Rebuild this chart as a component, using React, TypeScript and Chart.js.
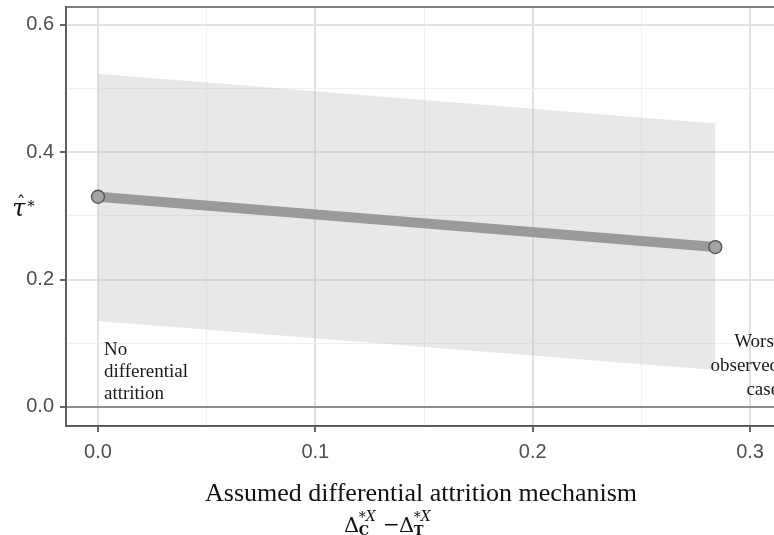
import React, { useEffect, useRef } from "react";
import { Chart, registerables } from "chart.js";

Chart.register(...registerables);

const xValues = [0, 0.284];
const estimate = [0.33, 0.251];
const lowerBound = [0.135, 0.058];
const upperBound = [0.523, 0.445];
const xMajorTicks = [0, 0.1, 0.2, 0.3];
const xMinorTicks = [0.05, 0.15, 0.25];
const yMajorTicks = [0, 0.2, 0.4, 0.6];
const yMinorTicks = [0.1, 0.3, 0.5];
const leftNote = ["No", "differential", "attrition"];
const rightNote = ["Worst", "observed", "case"];
const xTitle = "Assumed differential attrition mechanism";

const isMajor = (v: number, majors: number[]) => majors.some((m) => Math.abs(m - v) < 1e-9);

export default function App() {
  const ref = useRef<HTMLCanvasElement>(null);
  useEffect(() => {
    document.body.style.margin = "0";
    const canvas = ref.current!;
    const toPts = (ys: number[]) => xValues.map((x, i) => ({ x, y: ys[i] }));

    const annotate = {
      id: "annotate",
      afterDatasetsDraw(chart: any) {
        const { ctx, scales } = chart;
        const xs = scales.x;
        ctx.save();
        ctx.fillStyle = "#1a1a1a";
        ctx.font = '19px "Liberation Serif", serif';
        ctx.textBaseline = "middle";
        ctx.textAlign = "left";
        const lx = xs.getPixelForValue(xValues[0]) + 6;
        leftNote.forEach((t, i) => ctx.fillText(t, lx, 350 + i * 22));
        ctx.textAlign = "right";
        const rx = xs.getPixelForValue(0.3) + 29;
        rightNote.forEach((t, i) => ctx.fillText(t, rx, 342 + i * 24));
        ctx.restore();
      },
      afterDraw(chart: any) {
        const { ctx, chartArea } = chart;
        ctx.save();
        // panel border
        ctx.strokeStyle = "#555555";
        ctx.lineWidth = 1.5;
        ctx.strokeRect(chartArea.left, chartArea.top, chartArea.right - chartArea.left + 10, chartArea.bottom - chartArea.top);
        // x title
        ctx.fillStyle = "#111111";
        ctx.textAlign = "center";
        ctx.textBaseline = "alphabetic";
        ctx.font = '26px "Liberation Serif", serif';
        ctx.fillText(xTitle, 421, 501);
        // math line: Δ*X_C − Δ*X_T
        const base = 532;
        const drawDelta = (x: number, sub: string) => {
          ctx.textAlign = "left";
          ctx.font = '21px "DejaVu Serif", serif';
          ctx.fillText("Δ", x, base);
          const w = ctx.measureText("Δ").width - 1;
          ctx.font = '14px "DejaVu Serif", serif';
          ctx.fillText("*", x + w + 0.5, base - 10);
          const sw = ctx.measureText("*").width;
          ctx.font = 'italic 14px "DejaVu Serif", serif';
          ctx.fillText("X", x + w + sw + 0.5, base - 11);
          ctx.font = 'bold 13px "DejaVu Serif", serif';
          ctx.fillText(sub, x + w + 0.5, base + 3);
          return x + w;
        };
        drawDelta(344, "C");
        ctx.font = '20px "DejaVu Serif", serif';
        ctx.textAlign = "left";
        ctx.fillText("−", 383, base - 1);
        drawDelta(399, "T");
        // y title τ̂*
        ctx.textAlign = "center";
        ctx.font = 'italic 24px "DejaVu Serif", serif';
        ctx.fillText("τ", 19, 216);
        ctx.font = '18px "DejaVu Serif", serif';
        ctx.fillText("ˆ", 21, 210);
        ctx.font = '15px "DejaVu Serif", serif';
        ctx.fillText("*", 31, 211);
        ctx.restore();
      },
    };

    const gridColor = (majors: number[]) => (c: any) => {
      const v = c.tick?.value;
      if (v === undefined) return "rgba(0,0,0,0)";
      return isMajor(v, majors) ? "#e2e2e2" : "#f0f0f0";
    };

    const chart = new Chart(canvas, {
      type: "line",
      data: {
        datasets: [
          {
            label: "estimate",
            data: toPts(estimate),
            borderColor: "#9a9a9a",
            borderWidth: 10,
            pointRadius: 6.5,
            pointBackgroundColor: "#a3a3a3",
            pointBorderColor: "#505050",
            pointBorderWidth: 1.3,
            fill: false,
          },
          {
            label: "lower",
            data: toPts(lowerBound),
            borderWidth: 0,
            borderColor: "rgba(0,0,0,0)",
            pointRadius: 0,
            fill: false,
          },
          {
            label: "upper",
            data: toPts(upperBound),
            borderWidth: 0,
            borderColor: "rgba(0,0,0,0)",
            pointRadius: 0,
            backgroundColor: "rgba(185,185,185,0.32)",
            fill: "-1",
          },
        ],
      },
      options: {
        animation: false,
        responsive: false,
        layout: { autoPadding: false, padding: { top: 7, right: 0, left: 0, bottom: 0 } },
        plugins: { legend: { display: false }, tooltip: { enabled: false } },
        scales: {
          x: {
            type: "linear",
            min: -0.0147,
            max: 0.311,
            afterFit: (s: any) => {
              s.height = 109;
              s.paddingLeft = 0;
              s.paddingRight = 0;
            },
            afterBuildTicks: (s: any) => {
              s.ticks = [...xMajorTicks, ...xMinorTicks].sort((a, b) => a - b).map((v) => ({ value: v }));
            },
            ticks: {
              autoSkip: false,
              maxRotation: 0,
              padding: 8,
              color: "#4d4d4d",
              font: { family: '"Liberation Sans", Arial, sans-serif', size: 20 },
              callback: (v: any) => (isMajor(Number(v), xMajorTicks) ? Number(v).toFixed(1) : ""),
            },
            grid: {
              color: gridColor(xMajorTicks),
              lineWidth: (c: any) => (c.tick && isMajor(c.tick.value, xMajorTicks) ? 2 : 1),
              tickLength: 6,
              tickColor: (c: any) => (c.tick && isMajor(c.tick.value, xMajorTicks) ? "#333333" : "rgba(0,0,0,0)"),
              tickWidth: 1.5,
            },
            border: { display: true, color: "#555555", width: 1.5 },
          },
          y: {
            type: "linear",
            min: -0.03,
            max: 0.628,
            afterFit: (s: any) => {
              s.width = 66;
              s.paddingTop = 0;
              s.paddingBottom = 0;
            },
            afterBuildTicks: (s: any) => {
              s.ticks = [...yMajorTicks, ...yMinorTicks].sort((a, b) => a - b).map((v) => ({ value: v }));
            },
            ticks: {
              autoSkip: false,
              padding: 6,
              color: "#4d4d4d",
              font: { family: '"Liberation Sans", Arial, sans-serif', size: 20 },
              callback: (v: any) => (isMajor(Number(v), yMajorTicks) ? Number(v).toFixed(1) : ""),
            },
            grid: {
              color: (c: any) => {
                const v = c.tick?.value;
                if (v === 0) return "#8f8f8f";
                return gridColor(yMajorTicks)(c);
              },
              lineWidth: (c: any) => (c.tick && isMajor(c.tick.value, yMajorTicks) ? 2 : 1),
              tickLength: 6,
              tickColor: (c: any) => (c.tick && isMajor(c.tick.value, yMajorTicks) ? "#333333" : "rgba(0,0,0,0)"),
              tickWidth: 1.5,
            },
            border: { display: true, color: "#555555", width: 1.5 },
          },
        },
      },
      plugins: [annotate],
    });
    return () => chart.destroy();
  }, []);
  return (
    <div style={{ width: 774, height: 535 }}>
      <canvas ref={ref} width={774} height={535} />
    </div>
  );
}
